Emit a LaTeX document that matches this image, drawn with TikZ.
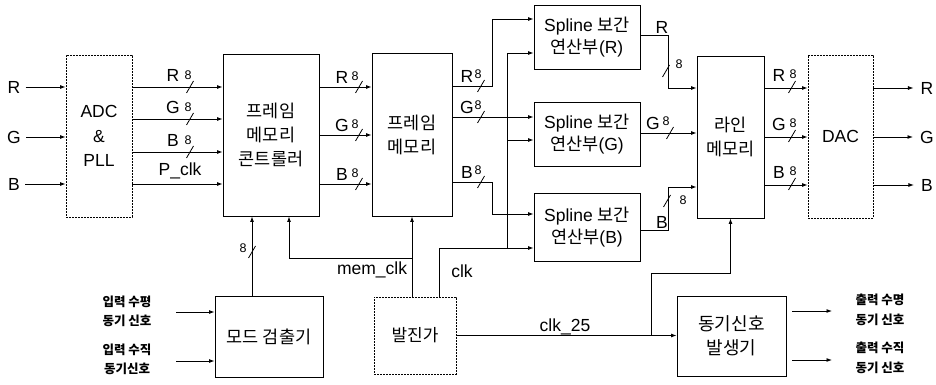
\documentclass[tikz,border=0pt]{standalone}
\usepackage{fontspec}
\setmainfont{Liberation Sans}
\newfontfamily\kr{Noto Sans CJK KR}
\usetikzlibrary{arrows.meta}
\tikzset{
  blk/.style={draw, line width=0.9pt, align=center, inner sep=0pt, font=\fontsize{17.5}{24.5}\selectfont},
  kblk/.style={blk, font=\kr\fontsize{17.5}{24}\selectfont},
  dblk/.style={blk, dash pattern=on 2pt off 1pt},
  wire/.style={line width=0.9pt},
  arr/.style={wire, -{Latex[length=5.5pt,width=4pt]}},
  lab/.style={font=\fontsize{17.5}{20}\selectfont, inner sep=0pt},
  num/.style={font=\fontsize{12.5}{13}\selectfont, inner sep=0pt},
  klab/.style={font=\kr\bfseries\fontsize{12.5}{19.5}\selectfont, align=center, inner sep=0pt},
  busmark/.pic={\draw[line width=0.8pt] (-3.5,6) -- (3.5,-6);}
}
\begin{document}
\begin{tikzpicture}[x=1pt,y=-1pt]
\useasboundingbox (0,0) rectangle (936,385);

% blocks
\node[dblk, minimum width=66pt, minimum height=162pt] (adc) at (99,136) {ADC\\\&\\PLL};
\node[kblk, minimum width=96pt, minimum height=162pt] (fmc) at (271,135) {프레임\\메모리\\콘트롤러};
\node[kblk, minimum width=80pt, minimum height=163pt] (fm) at (412,134.5) {프레임\\메모리};
\node[blk, font=\fontsize{17.5}{22}\selectfont, minimum width=106pt, minimum height=64pt] (splR) at (587,37) {Spline {\kr 보간}\\{\kr 연산부}(R)};
\node[blk, font=\fontsize{17.5}{22}\selectfont, minimum width=106pt, minimum height=64pt] (splG) at (587,134) {Spline {\kr 보간}\\{\kr 연산부}(G)};
\node[blk, font=\fontsize{17.5}{22}\selectfont, minimum width=106pt, minimum height=68pt] (splB) at (587,227) {Spline {\kr 보간}\\{\kr 연산부}(B)};
\node[kblk, minimum width=67pt, minimum height=162pt] (lm) at (730.5,137) {라인\\메모리};
\node[dblk, minimum width=65pt, minimum height=163pt] (dac) at (840.5,136.5) {DAC};
\node[kblk, font=\kr\fontsize{17.5}{20}\selectfont, minimum width=108pt, minimum height=81pt] (mode) at (269,336.5) {모드 검출기};
\node[dblk, font=\kr\fontsize{17}{20}\selectfont, minimum width=82pt, minimum height=77pt] (osc) at (415,335.5) {발진가};
\node[kblk, font=\kr\fontsize{18}{23.5}\selectfont, minimum width=109pt, minimum height=80pt] (sync) at (731.5,336) {동기신호\\발생기};

% inputs
\foreach \n/\t/\y in {inR/R/87, inG/G/137, inB/B/184}{
  \node[lab, inner xsep=3pt] (\n) at (14,\y) {\t};
  \draw[arr] ([xshift=2pt]\n.east) -- (adc.west |- \n);
}

% ADC -> FMC
\foreach \y in {87,119,152,184}{\draw[arr] (adc.east |- 0,\y) -- (fmc.west |- 0,\y);}
\foreach \t/\y in {R/87, G/119, B/152}{
  \node[lab] at (173,\y-12) {\t};
  \node[num] at (188,\y-12) {8};
  \pic at (190,\y) {busmark};
}
\node[lab] at (180,171) {P\_clk};

% FMC -> FM
\foreach \t/\y in {R/87, G/135, B/184}{
  \draw[arr] (fmc.east |- 0,\y) -- (fm.west |- 0,\y);
  \node[lab] at (342,\y-10) {\t};
  \node[num] at (355,\y-11) {8};
  \pic at (359,\y) {busmark};
}

% FM -> splines
\draw[arr] (fm.east |- 0,86) -- (492,86) -- (492,19) -- (splR.west |- 0,19);
\draw[arr] (fm.east |- 0,117) -- (splG.west |- 0,117);
\draw[arr] (fm.east |- 0,182) -- (492,182) -- (492,214) -- (splB.west |- 0,214);
\foreach \t/\y in {R/86, G/117, B/182}{
  \node[lab] at (467,\y-10) {\t};
  \node[num] at (478,\y-12) {8};
  \pic at (481,\y) {busmark};
}

% clk
\coordinate (clkJ) at (507,248);
\draw[arr] (osc.north -| 439,0) -- (439,248) -- (splB.west |- clkJ);
\draw[arr] (clkJ) -- (507,53) -- (splR.west |- 0,53);
\draw[arr] (507,140) -- (splG.west |- 0,140);
\node[lab] at (462,271) {clk};

% mem_clk
\coordinate (memJ) at (412,258);
\draw[arr] (fm.south |- osc.north) -- (fm.south);
\draw[arr] (memJ) -- (289,258) -- (fmc.south -| 289,0);
\node[lab] at (372,270) {mem\_clk};

% mode detector -> FMC
\draw[arr] (mode.north -| 252,0) -- (fmc.south -| 252,0);
\pic at (252,252) {busmark};
\node[num] at (243,248) {8};

% mode inputs
\node[klab] (inH) at (127,311.5) {입력 수평\\동기 신호};
\node[klab] (inV) at (127,359.5) {입력 수직\\동기신호};
\draw[arr] (176,312) -- (mode.west |- 0,312);
\draw[arr] (176,361) -- (mode.west |- 0,361);

% splines -> line memory
\draw[arr] (splR.east |- 0,35) -- (668,35) -- (668,88) -- (lm.west |- 0,88);
\node[lab] at (662,27) {R};
\pic at (666,71) {busmark};
\node[num] at (679,64) {8};
\draw[arr] (splG.east |- 0,133) -- (lm.west |- 0,133);
\node[lab] at (653,123) {G};
\node[num] at (666,121) {8};
\pic at (670,133) {busmark};
\draw[arr] (splB.east |- 0,230) -- (668,230) -- (668,187) -- (lm.west |- 0,187);
\node[lab] at (662,222) {B};
\pic at (667,201) {busmark};
\node[num] at (683,200) {8};

% line memory -> DAC
\foreach \t/\y in {R/88, G/137, B/185}{
  \draw[arr] (lm.east |- 0,\y) -- (dac.west |- 0,\y);
  \node[lab] at (779,\y-13) {\t};
  \node[num] at (793,\y-14) {8};
  \pic at (792,\y-1) {busmark};
}

% DAC outputs
\foreach \n/\t/\y in {oR/R/88, oG/G/137, oB/B/185}{
  \node[lab, inner xsep=3pt] (\n) at (927,\y) {\t};
  \draw[arr] (dac.east |- \n) -- ([xshift=-4pt]\n.west);
}

% clk_25
\draw[arr] (osc.east) -- (sync.west |- osc.east);
\node[lab] at (565,327) {clk\_25};
\coordinate (c25J) at (651,335.5);
\draw[arr] (c25J) -- (651,273) -- (lm.south |- 0,273) -- (lm.south);

% sync outputs
\node[klab] (oH) at (880,310) {출력 수명\\동기 신호};
\node[klab] (oV) at (880,358) {출력 수직\\동기 신호};
\draw[arr] (792,311) -- (832,311);
\draw[arr] (792,360) -- (832,360);
\end{tikzpicture}
\end{document}
